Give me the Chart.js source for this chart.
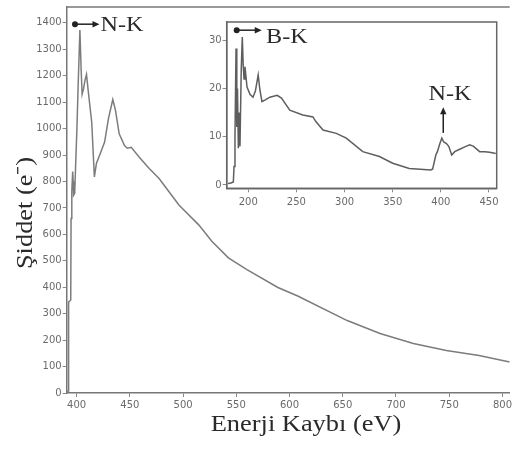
<!DOCTYPE html>
<html>
<head>
<meta charset="utf-8">
<script src="https://cdn.jsdelivr.net/npm/chart.js@4/dist/chart.umd.min.js"></script>
<style>
  html, body { margin: 0; padding: 0; background: #fff; }
  #wrap { position: relative; width: 514px; height: 451px; overflow: hidden; }
  #mainChart { position: absolute; left: 0; top: 0; }
  #insetChart { position: absolute; left: 200px; top: 15px; }
</style>
</head>
<body>
<div id="wrap">
  <canvas id="mainChart" width="514" height="451"></canvas>
  <canvas id="insetChart" width="305" height="205"></canvas>
</div>
<script>
// ana spektrum (N-K kenarı)
const mainEnergy = [391, 392, 392.4, 392.6, 393.5, 394.5, 394.8, 395.5, 396.3, 396.8, 397.2, 398.2, 399, 400.3, 401.5, 403.1, 404.2, 405.2, 406.5, 408, 409.3, 411, 414.2, 416.7, 418.6, 421.7, 426.3, 430, 434, 436.5, 440, 445, 447.7, 451.3, 458.9, 468.2, 477.5, 486.8, 496.1, 514.7, 527, 542.6, 560, 589.1, 607.7, 654.2, 685, 716.3, 747.3, 778, 806.8];
const mainIntensity = [0, 8, 120, 345, 348, 352, 660, 760, 838, 800, 748, 755, 850, 1000, 1170, 1373, 1230, 1130, 1150, 1185, 1205, 1140, 1024, 817, 868, 900, 949, 1040, 1110, 1070, 980, 936, 926, 929, 892, 849, 811, 761, 711, 636, 574, 511, 467, 399, 367, 274, 225, 187, 161, 142, 117];
const mainXTicks = [400, 450, 500, 550, 600, 650, 700, 750, 800];
const mainYTicks = [0, 100, 200, 300, 400, 500, 600, 700, 800, 900, 1000, 1100, 1200, 1300, 1400];

// iç grafik (B-K ve N-K)
const insetEnergy = [179, 182, 184.5, 185.2, 186.2, 187.3, 188.1, 188.8, 189.7, 190.6, 191.4, 192.7, 193.8, 194.7, 195.6, 196.6, 198.7, 201.8, 204.9, 207.4, 210.3, 212.1, 214.2, 217.3, 222.4, 230, 234.5, 243.1, 256.6, 267.2, 270, 277.6, 291.4, 301.8, 318.9, 336.2, 350, 367.2, 389.6, 391.5, 394.8, 396.4, 399, 401, 403, 405.8, 408.2, 411.3, 414.4, 419.6, 424.8, 430, 434, 440.3, 445.5, 450.7, 457];
const insetIntensity = [0.3, 0.4, 0.6, 3.8, 10, 28.3, 12, 20, 7.6, 15, 8, 24, 30.7, 25, 22, 24.5, 20.3, 18.8, 18.2, 19.5, 22.8, 19.7, 17.3, 17.6, 18.2, 18.6, 18, 15.5, 14.5, 14.1, 13.2, 11.4, 10.7, 9.7, 6.9, 5.9, 4.5, 3.4, 3.1, 3.3, 6.2, 6.9, 8.6, 9.7, 8.9, 8.6, 8, 6.2, 6.9, 7.4, 7.9, 8.3, 8, 6.9, 6.9, 6.8, 6.5];
const insetXTicks = [200, 250, 300, 350, 400, 450];
const insetYTicks = [0, 10, 20, 30];

const xTitle = 'Enerji Kaybı (eV)';
const yTitle = 'Şiddet (e⁻)';

const serif = '"Liberation Serif", "Times New Roman", serif';
const tickFont = { family: 'DejaVu Sans', size: 10 };

function toPoints(xs, ys) {
  return xs.map((x, i) => ({ x: x, y: ys[i] }));
}

function serifText(ctx, text, x, y, size, align) {
  ctx.save();
  ctx.font = size + 'px ' + serif;
  ctx.fillStyle = '#2a2a2a';
  ctx.textBaseline = 'alphabetic';
  const w = ctx.measureText(text).width * 1.1;
  let left = x;
  if (align === 'center') left = x - w / 2;
  ctx.translate(left, y);
  ctx.scale(1.1, 1);
  ctx.textAlign = 'left';
  ctx.fillText(text, 0, 0);
  ctx.restore();
}

function arrowHead(ctx, tx, ty, dx, dy) {
  // dx, dy: birim yön vektörü
  const len = 7, half = 3.2;
  ctx.beginPath();
  ctx.moveTo(tx, ty);
  ctx.lineTo(tx - dx * len - dy * half, ty - dy * len + dx * half);
  ctx.lineTo(tx - dx * len + dy * half, ty - dy * len - dx * half);
  ctx.closePath();
  ctx.fill();
}

function hArrow(ctx, x0, x1, y) {
  ctx.save();
  ctx.strokeStyle = '#222';
  ctx.fillStyle = '#222';
  ctx.lineWidth = 1.5;
  ctx.beginPath();
  ctx.arc(x0, y, 3, 0, Math.PI * 2);
  ctx.fill();
  ctx.beginPath();
  ctx.moveTo(x0, y);
  ctx.lineTo(x1 - 5, y);
  ctx.stroke();
  arrowHead(ctx, x1, y, 1, 0);
  ctx.restore();
}

const mainDecor = {
  id: 'mainDecor',
  afterDraw(chart) {
    const ctx = chart.ctx;
    const a = chart.chartArea;
    const xs = chart.scales.x, ys = chart.scales.y;
    ctx.save();
    ctx.strokeStyle = '#777';
    ctx.lineWidth = 1.5;
    ctx.beginPath();
    ctx.moveTo(a.left, a.top);
    ctx.lineTo(a.right, a.top);
    ctx.stroke();
    ctx.restore();

    serifText(ctx, xTitle, 306, 431, 24, 'center');

    ctx.save();
    ctx.translate(32, 213);
    ctx.rotate(-Math.PI / 2);
    serifText(ctx, yTitle, 0, 0, 24, 'center');
    ctx.restore();

    const y = ys.getPixelForValue(1395);
    hArrow(ctx, xs.getPixelForValue(398.5), xs.getPixelForValue(421.5), y);
    serifText(ctx, 'N-K', xs.getPixelForValue(422.5), ys.getPixelForValue(1370), 22, 'left');
  }
};

const insetDecor = {
  id: 'insetDecor',
  afterDraw(chart) {
    const ctx = chart.ctx;
    const a = chart.chartArea;
    const xs = chart.scales.x, ys = chart.scales.y;
    ctx.save();
    ctx.strokeStyle = '#666';
    ctx.lineWidth = 1.5;
    ctx.strokeRect(a.left, a.top, a.right - a.left, a.bottom - a.top);
    ctx.restore();

    hArrow(ctx, xs.getPixelForValue(188), xs.getPixelForValue(214), ys.getPixelForValue(32.1));
    serifText(ctx, 'B-K', xs.getPixelForValue(218.4), ys.getPixelForValue(29.4), 22, 'left');

    serifText(ctx, 'N-K', xs.getPixelForValue(409.5), ys.getPixelForValue(17.6), 22, 'center');
    const ax = xs.getPixelForValue(402.5);
    const y0 = ys.getPixelForValue(10.8), y1 = ys.getPixelForValue(16.1);
    ctx.save();
    ctx.strokeStyle = '#222';
    ctx.fillStyle = '#222';
    ctx.lineWidth = 1.5;
    ctx.beginPath();
    ctx.moveTo(ax, y0);
    ctx.lineTo(ax, y1 + 5);
    ctx.stroke();
    arrowHead(ctx, ax, y1, 0, -1);
    ctx.restore();
  }
};

function axisOpts(min, max, tickList, fitFn, pad) {
  return {
    type: 'linear',
    min: min,
    max: max,
    afterBuildTicks: s => { s.ticks = tickList.map(v => ({ value: v })); },
    afterFit: fitFn,
    grid: { drawOnChartArea: false, drawTicks: true, tickLength: 4, color: '#888', lineWidth: 1 },
    border: { color: '#777', width: 1.5 },
    ticks: {
      color: '#6a6a6a', font: tickFont, padding: pad, maxRotation: 0, autoSkip: false,
      callback: v => String(v)
    }
  };
}

new Chart(document.getElementById('mainChart'), {
  type: 'line',
  data: {
    datasets: [{
      data: toPoints(mainEnergy, mainIntensity),
      borderColor: '#7c7c7c',
      borderWidth: 1.5,
      pointRadius: 0,
      tension: 0,
      fill: false
    }]
  },
  options: {
    responsive: false,
    animation: false,
    events: [],
    layout: { padding: { top: 4, right: 0, left: 0, bottom: 0 }, autoPadding: false },
    plugins: { legend: { display: false }, tooltip: { enabled: false } },
    scales: {
      x: axisOpts(390.7, 806.8, mainXTicks, s => { s.height = 58; }, 2),
      y: axisOpts(0, 1460, mainYTicks, s => { s.width = 66.7; }, 1)
    }
  },
  plugins: [mainDecor]
});

new Chart(document.getElementById('insetChart'), {
  type: 'line',
  data: {
    datasets: [{
      data: toPoints(insetEnergy, insetIntensity),
      borderColor: '#5e5e5e',
      borderWidth: 1.5,
      pointRadius: 0,
      tension: 0,
      fill: false
    }]
  },
  options: {
    responsive: false,
    animation: false,
    events: [],
    layout: { padding: { top: 6.7, right: 8.3, left: 0, bottom: 0 }, autoPadding: false },
    plugins: { legend: { display: false }, tooltip: { enabled: false } },
    scales: {
      x: axisOpts(177.6, 458, insetXTicks, s => { s.height = 31.7; }, 4),
      y: axisOpts(-0.7, 33.8, insetYTicks, s => { s.width = 26.7; }, 1)
    }
  },
  plugins: [insetDecor]
});
</script>
</body>
</html>
